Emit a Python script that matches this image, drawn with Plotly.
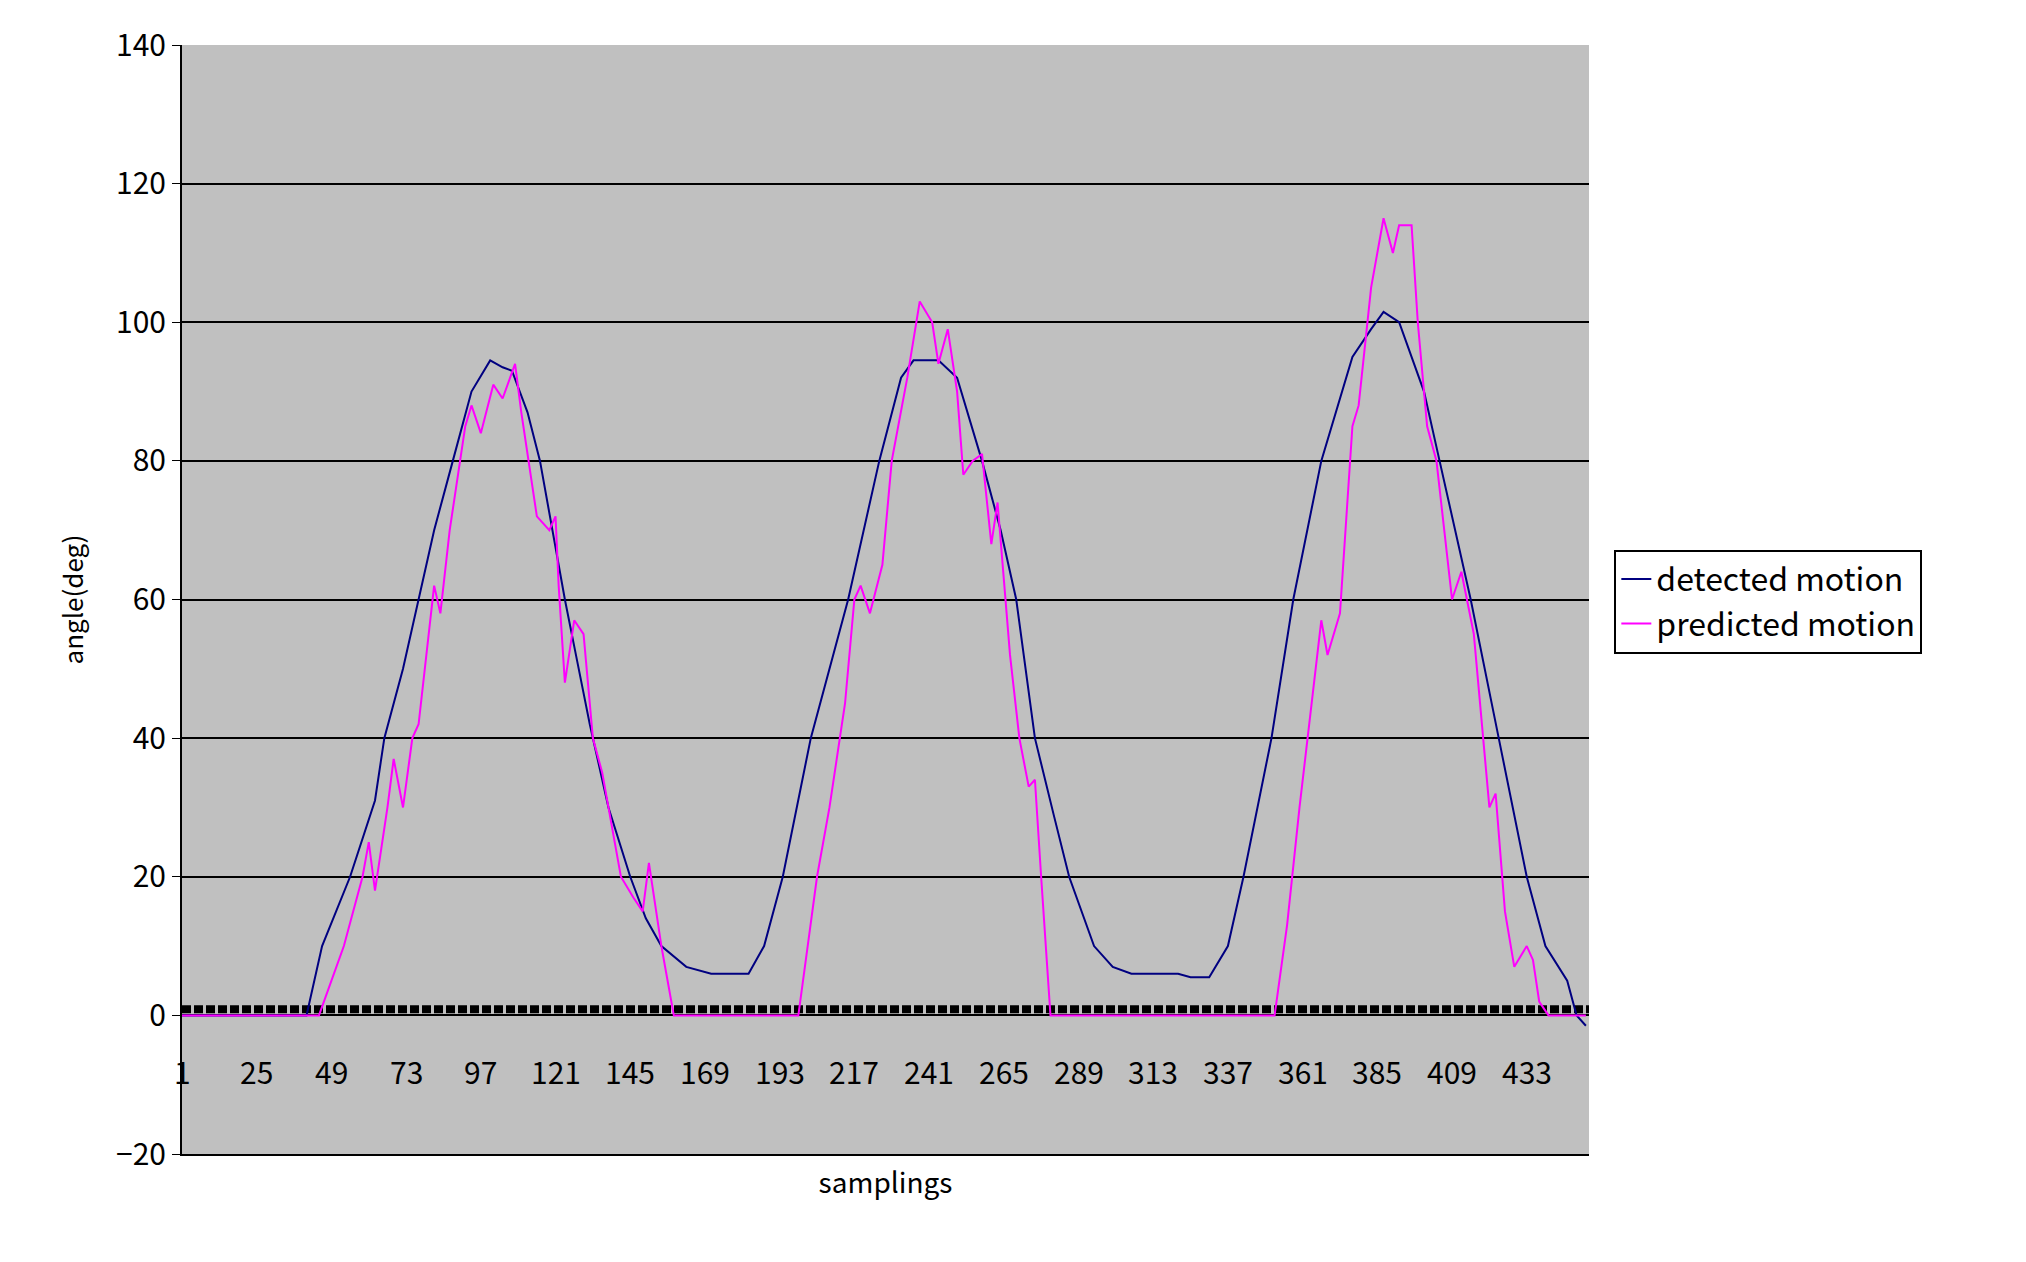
import plotly.graph_objects as go

det_s = [1, 41, 46, 55, 63, 66, 72, 77, 82, 88, 94, 100, 104, 107, 112, 116, 120, 124, 128, 132, 138, 145, 150, 155, 163, 171, 183, 188, 194, 203, 215, 225, 232, 236, 244, 250, 258, 264, 269, 275, 281, 286, 294, 300, 306, 321, 325, 331, 337, 342, 351, 358, 367, 377, 383, 387, 392, 400, 405, 415, 424, 433, 439, 446, 449, 452]
det_v = [0, 0, 10, 20, 31, 40, 50, 60, 70, 80, 90, 94.5, 93.5, 93, 87, 80, 70, 60, 51, 42, 30, 20, 14, 10, 7, 6, 6, 10, 20, 40, 60, 80, 92, 94.5, 94.5, 92, 80, 70, 60, 40, 29, 20, 10, 7, 6, 6, 5.5, 5.5, 10, 20, 40, 60, 80, 95, 99, 101.5, 100, 90, 80, 60, 40, 20, 10, 5, 0, -1.5]

pred_s = [1, 45, 53, 59, 61, 63, 67, 69, 72, 75, 77, 82, 84, 87, 92, 94, 97, 101, 104, 108, 110, 115, 119, 121, 122, 124, 127, 130, 133, 136, 138, 142, 146, 149, 151, 155, 157, 159, 160, 199, 202, 205, 209, 214, 217, 219, 222, 226, 229, 234, 238, 242, 244, 247, 250, 252, 255, 258, 261, 263, 267, 270, 273, 275, 277, 280, 352, 355, 356, 360, 367, 369, 373, 377, 379, 383, 387, 390, 392, 396, 398, 401, 404, 409, 412, 416, 421, 423, 426, 429, 433, 435, 437, 440, 452]
pred_v = [0, 0, 10, 20, 25, 18, 30, 37, 30, 40, 42, 62, 58, 70, 85, 88, 84, 91, 89, 94, 87, 72, 70, 72, 62, 48, 57, 55, 40, 35, 30, 20, 17, 15, 22, 10, 5, 0, 0, 0, 10, 20, 30, 45, 60, 62, 58, 65, 80, 92, 103, 100, 94, 99, 90, 78, 80, 81, 68, 74, 52, 40, 33, 34, 20, 0, 0, 10, 13, 30, 57, 52, 58, 85, 88, 105, 115, 110, 114, 114, 100, 85, 80, 60, 64, 55, 30, 32, 15, 7, 10, 8, 2, 0, 0]

x_ticks = list(range(1, 434, 24))
y_ticks = list(range(-20, 141, 20))

FONT = "Noto Sans CJK JP"
fig = go.Figure()
fig.add_trace(go.Scatter(x=det_s, y=det_v, mode="lines", name="detected motion",
                         line=dict(color="#000080", width=2)))
fig.add_trace(go.Scatter(x=pred_s, y=pred_v, mode="lines", name="predicted motion",
                         line=dict(color="#FF00FF", width=2)))

fig.add_shape(type="line", xref="x", yref="y", x0=1, x1=453, y0=0.9, y1=0.9,
              line=dict(color="black", width=8, dash="9px,3px"), layer="below")
for t in x_ticks:
    fig.add_annotation(x=t, y=-8, text=str(t), showarrow=False, xref="x", yref="y",
                       font=dict(family=FONT, size=30, color="black"))

fig.update_layout(
    width=2026, height=1262,
    margin=dict(l=174, r=445, t=29, b=116),
    paper_bgcolor="white", plot_bgcolor="#C0C0C0",
    font=dict(family=FONT, size=30, color="black"),
    showlegend=True,
    legend=dict(x=1.018, y=0.545, xanchor="left", yanchor="top",
                bgcolor="white", bordercolor="black", borderwidth=2,
                font=dict(size=32), tracegroupgap=0),
    xaxis=dict(range=[1, 453], showgrid=False, showticklabels=False, zeroline=False,
               showline=True, linecolor="black", linewidth=2, mirror=False,
               title=dict(text="samplings", standoff=18, font=dict(size=28))),
    yaxis=dict(range=[-20, 140], tickvals=y_ticks, showgrid=True, gridcolor="black",
               gridwidth=2, zeroline=False, showline=True, linecolor="black", linewidth=2,
               ticks="outside", ticklen=8, tickcolor="black",
               title=dict(text="angle(deg)", standoff=25, font=dict(size=26))),
)
fig.write_html("out.html")
